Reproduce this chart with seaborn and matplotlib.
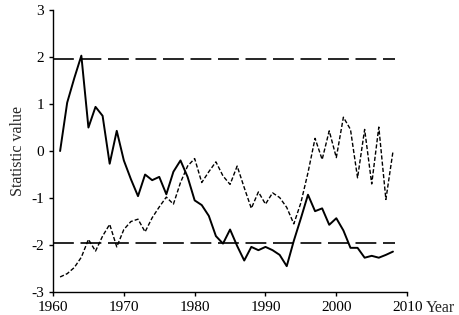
import numpy as np
import pandas as pd
import matplotlib
matplotlib.use('Agg')
import matplotlib.pyplot as plt
import seaborn as sns


years = list(range(1961, 2009))

# forward statistic (solid line)
uf = [0.0, 1.03, 1.55, 2.03, 0.50, 0.94, 0.75, -0.27, 0.43, -0.20,
      -0.60, -0.96, -0.50, -0.62, -0.55, -0.92, -0.44, -0.20, -0.55, -1.05,
      -1.15, -1.38, -1.81, -1.97, -1.67, -2.02, -2.33, -2.04, -2.11, -2.04,
      -2.11, -2.21, -2.45, -1.91, -1.43, -0.93, -1.28, -1.22, -1.57, -1.43,
      -1.69, -2.06, -2.06, -2.27, -2.23, -2.27, -2.21, -2.14]

# backward statistic (dotted line)
ub = [-2.68, -2.61, -2.48, -2.26, -1.88, -2.13, -1.81, -1.56, -2.04, -1.67,
      -1.50, -1.45, -1.72, -1.42, -1.19, -0.98, -1.13, -0.67, -0.32, -0.16,
      -0.67, -0.44, -0.23, -0.53, -0.71, -0.32, -0.78, -1.22, -0.87, -1.13,
      -0.89, -0.99, -1.20, -1.55, -1.10, -0.46, 0.27, -0.18, 0.43, -0.14,
      0.72, 0.46, -0.57, 0.46, -0.70, 0.51, -1.03, -0.01]

crit = [1.96, -1.96]
x_ticks = [1960, 1970, 1980, 1990, 2000, 2010]
y_ticks = [-3, -2, -1, 0, 1, 2, 3]

sns.set_style('ticks')
plt.rcParams['font.family'] = ['Liberation Serif', 'DejaVu Serif']
plt.rcParams['axes.unicode_minus'] = False

df = pd.DataFrame({'year': years, 'UF': uf, 'UB': ub})

fig = plt.figure(figsize=(4.59, 3.15), dpi=100)
ax = fig.add_axes([0.1155, 0.073, 0.7715, 0.895])

sns.lineplot(data=df, x='year', y='UF', ax=ax, color='black', linewidth=1.4)
sns.lineplot(data=df, x='year', y='UB', ax=ax, color='black', linewidth=1.0,
             linestyle=(0, (3, 1.5)))
ax.hlines(crit, 1960, 2008.3, colors='black', linewidth=1.2,
          linestyles=[(0, (12.5, 4))])

ax.set_xlim(1960, 2010)
ax.set_ylim(-3, 3)
ax.set_xticks(x_ticks)
ax.set_yticks(y_ticks)
ax.tick_params(direction='out', length=3, width=1, labelsize=11, colors='black')
for s in ['left', 'bottom']:
    ax.spines[s].set_linewidth(1)
    ax.spines[s].set_color('black')
sns.despine(ax=ax)

ax.set_xlabel('')
ax.set_ylabel('Statistic value', fontsize=11.5)
ax.annotate('Year', xy=(2010, -3), xycoords='data', xytext=(13.5, -5.7),
            textcoords='offset points', ha='left', va='top', fontsize=11.5)

fig.savefig('out.png', dpi=100)
